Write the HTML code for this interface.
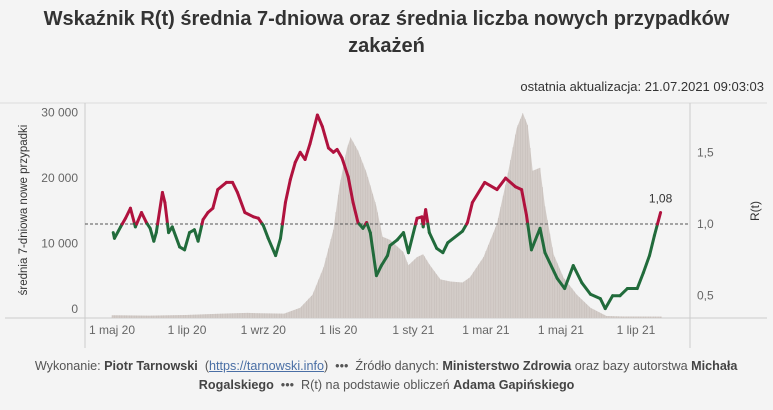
<!DOCTYPE html>
<html><head><meta charset="utf-8"><style>
body{margin:0;width:773px;height:410px;background:#f4f4f4;font-family:"Liberation Sans",sans-serif;overflow:hidden;position:relative}
.t{position:absolute;left:0;width:773px;text-align:center;font-weight:bold;font-size:20px;color:#333}
.upd{position:absolute;right:9px;top:79px;font-size:13px;color:#333}
.foot{position:absolute;left:0;width:773px;text-align:center;font-size:13px;color:#555;}
.foot span.c{display:inline-block;transform:scaleX(0.97);transform-origin:center;white-space:nowrap}
.foot b{color:#444}
</style></head><body>
<div class="t" style="top:8px">Wskaźnik R(t) średnia 7-dniowa oraz średnia liczba nowych przypadków</div>
<div class="t" style="top:35px">zakażeń</div>
<div class="upd">ostatnia aktualizacja: 21.07.2021 09:03:03</div>
<svg id="ch" width="773" height="410" style="position:absolute;left:0;top:0"></svg>
<div class="foot" style="top:358px"><span class="c">Wykonanie: <b>Piotr Tarnowski</b> &nbsp;(<u style="color:#4a6fa5">https://tarnowski.info</u>) &nbsp;••• &nbsp;Źródło danych: <b>Ministerstwo Zdrowia</b> oraz bazy autorstwa <b>Michała</b></span></div>
<div class="foot" style="top:377px"><span class="c"><b>Rogalskiego</b> &nbsp;••• &nbsp;R(t) na podstawie obliczeń <b>Adama Gapińskiego</b></span></div>
<script>
const caseDays=[0,30,60,90,110,120,140,153,163,172,180,185,191,194,200,207,215,220,226,237,241,248,253,258,267,275,285,291,302,313,321,329,334,338,342,348,352,359,367,378,389,402,415,447];
const caseVals=[250,200,300,500,600,550,500,1340,3270,7280,12780,19170,24670,26300,24370,21100,16200,11740,11290,9500,7580,8770,9200,7730,5500,5200,5050,5800,8770,13670,20200,27640,29870,28080,21400,21840,16200,9200,5800,3270,1340,150,80,60];
const rDays=[1,2,7,11,15,19,24,28,31,34,36,41,43,46,49,55,59,63,67,70,74,78,82,86,93,98,102,108,115,119,123,127,133,137,141,145,149,153,157,161,167,171,176,180,183,187,192,196,200,204,207,210,215,219,224,226,232,237,241,248,252,253,255,258,264,269,273,285,289,293,303,313,320,328,333,337,341,348,352,362,368,375,382,389,397,401,407,413,419,427,432,437,441,446];
const rVals=[.94,.90,.98,1.04,1.11,.98,1.08,1.01,.97,.88,.94,1.22,1.15,.94,.98,.84,.82,.94,.96,.88,1.03,1.08,1.11,1.24,1.29,1.29,1.22,1.08,1.05,1.04,.99,.90,.78,.90,1.15,1.31,1.43,1.50,1.45,1.56,1.76,1.68,1.53,1.50,1.52,1.46,1.33,1.15,1.01,.97,1.01,.94,.64,.71,.78,.85,.89,.94,.80,1.04,1.05,.98,1.10,.94,.83,.80,.87,.95,1.01,1.15,1.29,1.24,1.32,1.26,1.24,1.06,.82,.97,.80,.62,.55,.71,.59,.51,.48,.41,.50,.50,.55,.55,.66,.78,.92,1.08];
const leftTicks=[0,10000,20000,30000];
const leftLabels=["0","10 000","20 000","30 000"];
const rightTicks=[0.5,1.0,1.5];
const rightLabels=["0,5","1,0","1,5"];
const xTicks=[0,61,123,184,245,304,365,426];
const xLabels=["1 maj 20","1 lip 20","1 wrz 20","1 lis 20","1 sty 21","1 mar 21","1 maj 21","1 lip 21"];
const lastLabel="1,08";

const NS="http://www.w3.org/2000/svg";
const svg=document.getElementById('ch');
const X=d=>112+d*1.23;
const YL=v=>309-v*0.00655;
const YA=v=>317-v*0.00683;
const YR=r=>224-(r-1)*143.4;
function mk(t,a,p){const e=document.createElementNS(NS,t);for(const k in a)e.setAttribute(k,a[k]);(p||svg).appendChild(e);return e;}
let e;
e=mk('line',{x1:0,y1:103,x2:767,y2:103,stroke:'#ddd'});


e=mk('line',{x1:5,y1:318,x2:767,y2:318,stroke:'#ccc'});


e=mk('line',{x1:85,y1:103,x2:85,y2:348,stroke:'#ccc'});


e=mk('line',{x1:690,y1:103,x2:690,y2:348,stroke:'#ccc'});


let d='M'+X(caseDays[0])+',318';
caseDays.forEach((t,i)=>{d+=' L'+X(t).toFixed(1)+','+YA(caseVals[i]).toFixed(1);});
d+=' L'+X(caseDays[caseDays.length-1])+',318 Z';
e=mk('path',{d:d,fill:'#d3ccc8'});


const g=mk('g',{});


for(let t=caseDays[0];t<=caseDays[caseDays.length-1];t+=2){
  let i=0;while(i<caseDays.length-2&&caseDays[i+1]<t)i++;
  const f=(t-caseDays[i])/(caseDays[i+1]-caseDays[i]);
  const v=caseVals[i]+(caseVals[i+1]-caseVals[i])*Math.min(1,Math.max(0,f));
  mk('line',{x1:X(t),x2:X(t),y1:318,y2:YA(v),stroke:'#c4bcb8','stroke-width':0.5},g);
}
e=mk('line',{x1:85,y1:YR(1),x2:690,y2:YR(1),stroke:'#555','stroke-dasharray':'3,2','stroke-width':1});


const red='#b0123e',green='#216b3b';
for(let i=0;i<rDays.length-1;i++){
  const a=rVals[i],b=rVals[i+1];
  const x1=X(rDays[i]),x2=X(rDays[i+1]);
  const segs=[];
  if((a-1)*(b-1)<0){const f=(1-a)/(b-a);const xm=x1+(x2-x1)*f;segs.push([x1,a,xm,1,a>1]);segs.push([xm,1,x2,b,b>1]);}
  else segs.push([x1,a,x2,b,(a+b)/2>1]);
  segs.forEach(s=>{
    const l=mk('line',{x1:s[0],y1:YR(s[1]),x2:s[2],y2:YR(s[3]),stroke:s[4]?red:green,'stroke-width':3,'stroke-linecap':'round'});
    
    
  });
}
e=mk('text',{x:X(rDays[rDays.length-1]),y:YR(rVals[rVals.length-1])-10,'text-anchor':'middle','font-size':12,fill:'#333'});
e.textContent=lastLabel;


leftTicks.forEach((v,i)=>{const t=mk('text',{x:78,y:YL(v)+4,'text-anchor':'end','font-size':12,fill:'#666'});t.textContent=leftLabels[i];

});
rightTicks.forEach((v,i)=>{const t=mk('text',{x:697,y:YR(v)+4,'font-size':12,fill:'#666'});t.textContent=rightLabels[i];

});
xTicks.forEach((v,i)=>{const t=mk('text',{x:X(v),y:334,'text-anchor':'middle','font-size':12,fill:'#666'});t.textContent=xLabels[i];

});
e=mk('text',{x:0,y:0,transform:'translate(27,210) rotate(-90)','text-anchor':'middle','font-size':11.5,fill:'#333'});
e.textContent='średnia 7-dniowa nowe przypadki';


e=mk('text',{x:0,y:0,transform:'translate(759,211) rotate(-90)','text-anchor':'middle','font-size':12,fill:'#333'});
e.textContent='R(t)';


</script>
</body></html>
